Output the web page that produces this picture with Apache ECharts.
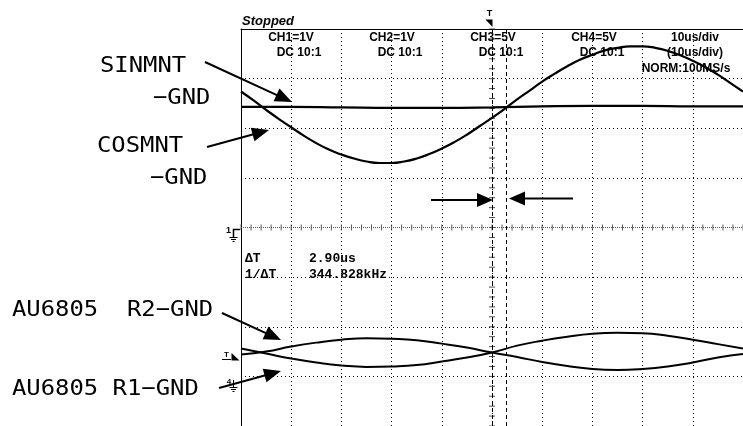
<!DOCTYPE html>
<html>
<head>
<meta charset="utf-8">
<script src="https://cdn.jsdelivr.net/npm/echarts@6/dist/echarts.min.js"></script>
<style>
html, body { margin: 0; padding: 0; background: #fff; }
#chart { width: 743px; height: 426px; }
</style>
</head>
<body>
<div id="chart"></div>
<script>
// Horizontal axis: time in microseconds (10 us/div). Vertical axis: screen divisions.
const timeMin = -50, timeMax = 50, timeStep = 10;
const divMin = -4, divMax = 4, divStep = 1;

// Cursor positions (us)
const cursorA = 0;
const cursorB = 2.9;

// SINMNT-GND (CH1)
const sinT = [-50, -40, -30, -20, -10, 0, 10, 20, 30, 40, 50];
const sinmnt = [2.43, 2.43, 2.42, 2.41, 2.41, 2.42, 2.44, 2.45, 2.45, 2.44, 2.44];

// COSMNT-GND (CH2)
const cosT = [-50, -47.5, -45, -42.5, -40, -37.5, -35, -32.5, -30, -27.5, -25, -22.5, -20, -17.5,
  -15, -12.5, -10, -7.5, -5, -2.5, 0, 2.5, 5, 7.5, 10, 12.5, 15, 17.5, 20, 22.5, 25, 27.5,
  30, 32.5, 35, 37.5, 40, 42.5, 45, 47.5, 50];
const cosmnt = [2.74, 2.56, 2.37, 2.19, 2.02, 1.85, 1.70, 1.57, 1.47, 1.39, 1.33, 1.30, 1.30, 1.33,
  1.39, 1.48, 1.59, 1.72, 1.87, 2.04, 2.21, 2.39, 2.58, 2.76, 2.94, 3.10, 3.25, 3.38, 3.48, 3.57,
  3.62, 3.65, 3.65, 3.62, 3.56, 3.47, 3.36, 3.23, 3.08, 2.91, 2.74];

// AU6805 R1-GND / R2-GND
const rT = [-50, -45, -40, -35, -30, -25, -20, -15, -10, -5, 0, 5, 10, 15, 20, 25, 30, 35, 40, 45, 50];
const r1gnd = [-2.44, -2.54, -2.64, -2.72, -2.78, -2.81, -2.80, -2.77, -2.70, -2.62, -2.52,
  -2.38, -2.28, -2.20, -2.14, -2.12, -2.13, -2.18, -2.26, -2.35, -2.44];
const r2gnd = [-2.56, -2.50, -2.40, -2.32, -2.26, -2.23, -2.24, -2.27, -2.34, -2.42, -2.52,
  -2.61, -2.71, -2.79, -2.85, -2.87, -2.85, -2.80, -2.72, -2.62, -2.55];

// Screen header texts
const chHeaders = ['CH1=1V', 'CH2=1V', 'CH3=5V', 'CH4=5V', '10us/div'];
const chCoupling = ['DC 10:1', 'DC 10:1', 'DC 10:1', 'DC 10:1', '(10us/div)'];
const chHeaderX = [291, 392, 493, 594, 695];
const sampling = 'NORM:100MS/s';
const deltaT = '2.90us';
const invDeltaT = '344.828kHz';

const zip = (xs, ys) => xs.map((x, i) => [x, ys[i]]);

// Graticule tick marks on the centre lines (every 0.2 div)
const hTicks = [];
for (let t = timeMin; t <= timeMax + 1e-9; t += 2) hTicks.push([t, 0]);
const vTicks = [];
for (let d = divMin; d <= divMax + 1e-9; d += 0.2) vTicks.push([0, +d.toFixed(2)]);

const chart = echarts.init(document.getElementById('chart'), null, { renderer: 'canvas' });

// Arrow builder: line from (x1,y1) to the tip (x2,y2) with a filled head
function arrow(x1, y1, x2, y2, head, half, width) {
  const dx = x2 - x1, dy = y2 - y1;
  const len = Math.hypot(dx, dy);
  const ux = dx / len, uy = dy / len;
  const bx = x2 - ux * head, by = y2 - uy * head;
  const nx = -uy, ny = ux;
  return [
    { type: 'line', z: 100, silent: true,
      shape: { x1: x1, y1: y1, x2: bx + ux, y2: by + uy },
      style: { stroke: '#000', lineWidth: width } },
    { type: 'polygon', z: 100, silent: true,
      shape: { points: [[x2, y2], [bx + nx * half, by + ny * half], [bx - nx * half, by - ny * half]] },
      style: { fill: '#000' } }
  ];
}

function txt(text, x, y, font, align, z, sx) {
  return { type: 'text', x: x, y: y, z: z == null ? 0 : z, silent: true,
    scaleX: sx || 1, originX: 0, originY: 0,
    style: { text: text, font: font, fill: '#000', align: align || 'left', verticalAlign: 'middle',
      textAlign: align || 'left', textVerticalAlign: 'middle' } };
}

const labelFont = "22px 'DejaVu Sans Mono', monospace";
const labelScale = 1.085;
const scopeFont = "bold 12px 'Liberation Sans', Arial, sans-serif";
const monoFont = "bold 13px 'Liberation Mono', monospace";

const graphic = [];
// Scope status and channel settings
graphic.push(txt('Stopped', 242, 21.5, "italic bold 13px 'Liberation Sans', Arial, sans-serif"));
chHeaders.forEach((h, i) => graphic.push(txt(h, chHeaderX[i], 37.5, scopeFont, 'center')));
chCoupling.forEach((h, i) => graphic.push(txt(h, chHeaderX[i] + (i < 4 ? 8 : 0), 52.5, scopeFont, 'center')));
graphic.push(txt(sampling, 686, 69, scopeFont, 'center'));
// Cursor readout
graphic.push(txt('\u0394T', 245, 259, monoFont));
graphic.push(txt(deltaT, 309, 259, monoFont));
graphic.push(txt('1/\u0394T', 245, 275, monoFont));
graphic.push(txt(invDeltaT, 309, 275, monoFont));

// Signal names
graphic.push(txt('SINMNT', 100, 66, labelFont, 'left', 50, labelScale));
graphic.push(txt('\u2212GND', 153, 98, labelFont, 'left', 50, labelScale));
graphic.push(txt('COSMNT', 97, 146, labelFont, 'left', 50, labelScale));
graphic.push(txt('\u2212GND', 150, 178, labelFont, 'left', 50, labelScale));
graphic.push(txt('AU6805  R2\u2212GND', 12, 310, labelFont, 'left', 50, labelScale));
graphic.push(txt('AU6805 R1\u2212GND', 12, 389.5, labelFont, 'left', 50, labelScale));

// Pointer arrows
graphic.push(...arrow(205, 62, 292, 102, 17, 7, 2));
graphic.push(...arrow(207, 147, 269, 130, 17, 7, 2));
graphic.push(...arrow(222, 313, 281, 340, 17, 7, 2));
graphic.push(...arrow(219, 388, 281, 371, 17, 7, 2));
// Cursor span arrows
graphic.push(...arrow(431, 200, 493, 200, 16, 7, 2));
graphic.push(...arrow(573, 198.5, 509, 198.5, 16, 7, 2));

// Trigger position marker (top)
graphic.push(txt('T', 489.5, 14, "bold 9px 'Liberation Sans', Arial, sans-serif", 'center', 50));
graphic.push({ type: 'polygon', z: 50, silent: true,
  shape: { points: [[485.5, 19.5], [492.5, 19.5], [492.5, 27]] }, style: { fill: '#000' } });

// CH1 ground level marker
graphic.push(txt('1', 228.5, 231, "bold 9px 'Liberation Sans', Arial, sans-serif", 'center', 50));
graphic.push({ type: 'polyline', z: 50, silent: true,
  shape: { points: [[240, 229.5], [233.5, 229.5], [233.5, 237]] }, style: { stroke: '#000', lineWidth: 1.5, fill: null } });
graphic.push({ type: 'line', z: 50, silent: true, shape: { x1: 229.5, y1: 237.5, x2: 237.5, y2: 237.5 }, style: { stroke: '#000', lineWidth: 1 } });
graphic.push({ type: 'line', z: 50, silent: true, shape: { x1: 231, y1: 239.5, x2: 236, y2: 239.5 }, style: { stroke: '#000', lineWidth: 1 } });
graphic.push({ type: 'line', z: 50, silent: true, shape: { x1: 232.5, y1: 241.5, x2: 234.5, y2: 241.5 }, style: { stroke: '#000', lineWidth: 1 } });

// Trigger level marker
graphic.push(txt('T', 226.5, 355, "bold 8px 'Liberation Sans', Arial, sans-serif", 'center', 50));
graphic.push({ type: 'line', z: 50, silent: true, shape: { x1: 222, y1: 359.5, x2: 231, y2: 359.5 }, style: { stroke: '#000', lineWidth: 1 } });
graphic.push({ type: 'polygon', z: 50, silent: true,
  shape: { points: [[231.5, 353], [231.5, 360.5], [239.5, 360.5]] }, style: { fill: '#000' } });

// CH4 ground level marker
graphic.push(txt('4', 229, 381.5, "bold 8px 'Liberation Sans', Arial, sans-serif", 'center', 50));
graphic.push({ type: 'line', z: 50, silent: true, shape: { x1: 233.5, y1: 380, x2: 233.5, y2: 387 }, style: { stroke: '#000', lineWidth: 1 } });
graphic.push({ type: 'line', z: 50, silent: true, shape: { x1: 229.5, y1: 387.5, x2: 237.5, y2: 387.5 }, style: { stroke: '#000', lineWidth: 1 } });
graphic.push({ type: 'line', z: 50, silent: true, shape: { x1: 231, y1: 389.5, x2: 236, y2: 389.5 }, style: { stroke: '#000', lineWidth: 1 } });
graphic.push({ type: 'line', z: 50, silent: true, shape: { x1: 232.5, y1: 391.5, x2: 234.5, y2: 391.5 }, style: { stroke: '#000', lineWidth: 1 } });

const traceStyle = (w) => ({ color: '#000', width: w });

const option = {
  animation: false,
  backgroundColor: '#fff',
  grid: { left: 241, top: 29, width: 504, height: 402, containLabel: false },
  xAxis: {
    type: 'value', min: timeMin, max: timeMax, interval: timeStep, position: 'top',
    axisLine: { show: true, onZero: false, lineStyle: { color: '#000', width: 1 } },
    axisTick: { show: false }, axisLabel: { show: false },
    splitLine: { show: true, lineStyle: { color: '#000', width: 1, type: [1, 3] } }
  },
  yAxis: {
    type: 'value', min: divMin, max: divMax, interval: divStep,
    axisLine: { show: true, onZero: false, lineStyle: { color: '#000', width: 1 } },
    axisTick: { show: false }, axisLabel: { show: false },
    splitLine: { show: true, lineStyle: { color: '#000', width: 1, type: [1, 3] } }
  },
  graphic: graphic,
  series: [
    {
      name: 'graticule', type: 'scatter', data: hTicks, symbol: 'rect', symbolSize: [1, 6],
      itemStyle: { color: '#333' }, silent: true, z: 1,
      markLine: {
        silent: true, symbol: ['none', 'none'], label: { show: false },
        data: [
          { yAxis: 0, lineStyle: { color: '#555', width: 1, type: [1, 1] } },
          { xAxis: cursorA, lineStyle: { color: '#000', width: 1, type: [4, 3] } },
          { xAxis: cursorB, lineStyle: { color: '#000', width: 1, type: [4, 3] } }
        ]
      }
    },
    {
      name: 'graticule-v', type: 'scatter', data: vTicks, symbol: 'rect', symbolSize: [6, 1],
      itemStyle: { color: '#222' }, silent: true, z: 1
    },
    { name: 'SINMNT-GND', type: 'line', data: zip(sinT, sinmnt), showSymbol: false, smooth: true,
      lineStyle: traceStyle(2.2), z: 3 },
    { name: 'COSMNT-GND', type: 'line', data: zip(cosT, cosmnt), showSymbol: false, smooth: true,
      lineStyle: traceStyle(2.2), z: 3 },
    { name: 'AU6805 R2-GND', type: 'line', data: zip(rT, r2gnd), showSymbol: false, smooth: true,
      lineStyle: traceStyle(2), z: 3 },
    { name: 'AU6805 R1-GND', type: 'line', data: zip(rT, r1gnd), showSymbol: false, smooth: true,
      lineStyle: traceStyle(2), z: 3 }
  ]
};

chart.setOption(option);
</script>
</body>
</html>
